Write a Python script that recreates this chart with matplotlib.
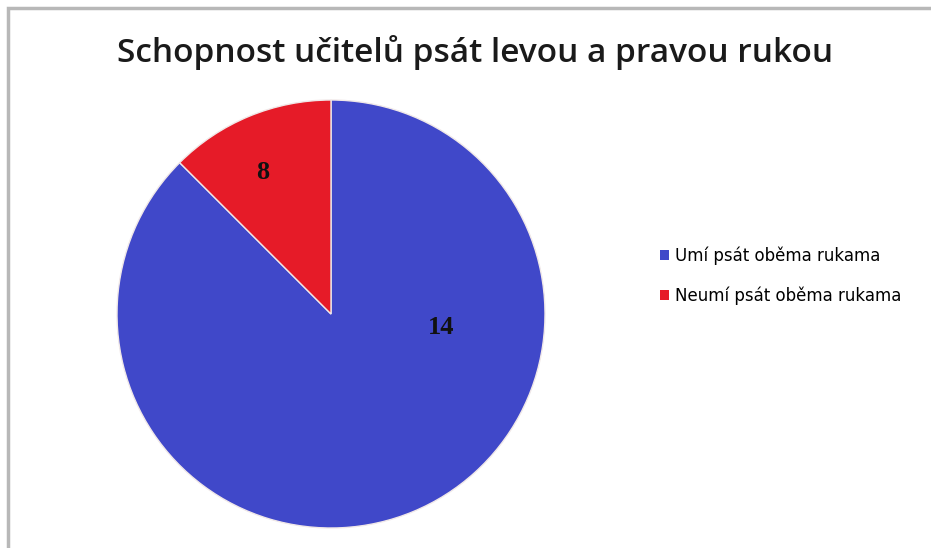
import matplotlib
matplotlib.use('Agg')
import matplotlib.pyplot as plt
from matplotlib.patches import Rectangle, Patch

# slice shares (blue ~7/8, red ~1/8)
categories = ['Umí psát oběma rukama', 'Neumí psát oběma rukama']
shares = [0.875, 0.125]
value_labels = ['14', '8']
colors = ['#4048C9', '#E61B28']
title = 'Schopnost učitelů psát levou a pravou rukou'

W, H = 931, 548
fig = plt.figure(figsize=(W / 100, H / 100), dpi=100)

# grey frame, top and left only visible
fig.patches.append(Rectangle((8 / W, -0.1), 1.2, (H - 8) / H + 0.1,
                             transform=fig.transFigure, fill=False,
                             edgecolor='#b8b8b8', linewidth=2.5))

fig.text(475 / W, 1 - 53 / H, title, ha='center', va='center',
         fontsize=24, fontweight='semibold', family='Open Sans', color='#1a1a1a')

cx, cy, r = 331, 314, 214
ax = fig.add_axes([(cx - r) / W, 1 - (cy + r) / H, 2 * r / W, 2 * r / H])
wedges, _ = ax.pie(shares, colors=colors, startangle=90, counterclock=False,
                   wedgeprops=dict(edgecolor='#f0e8e8', linewidth=1))
ax.set_xlim(-1, 1)
ax.set_ylim(-1, 1)
ax.set_aspect('equal')
ax.axis('off')

label_pos = [(0.514, -0.061), (-0.318, 0.659)]
for (x, y), t in zip(label_pos, value_labels):
    ax.text(x, y, t, ha='center', va='center', fontsize=19,
            fontweight='bold', family='Liberation Serif', color='#111111')

handles = [Patch(facecolor=c, edgecolor='none') for c in colors]
fig.legend(handles, categories, loc='center left',
           bbox_to_anchor=(645 / W, 1 - 276 / H), frameon=False,
           handlelength=0.55, handleheight=0.55,
           handletextpad=0.35, labelspacing=1.3,
           prop={'family': 'DejaVu Sans', 'size': 12})

fig.savefig('out.png', dpi=100)
